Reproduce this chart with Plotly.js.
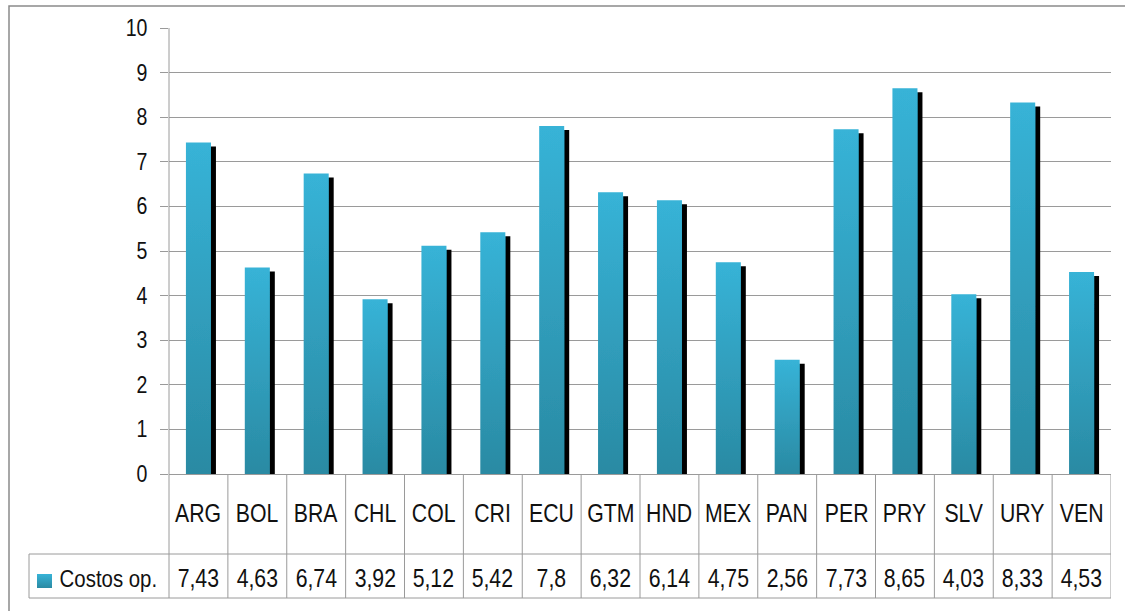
<!DOCTYPE html>
<html>
<head>
<meta charset="utf-8">
<script src="https://cdn.plot.ly/plotly-3.0.1.min.js"></script>
<style>
html,body{margin:0;padding:0;background:#fff;}
#chart{width:1125px;height:611px;}
</style>
</head>
<body>
<div id="chart"></div>
<script>
// ---- data ----
var categories = ["ARG","BOL","BRA","CHL","COL","CRI","ECU","GTM","HND","MEX","PAN","PER","PRY","SLV","URY","VEN"];
var costos = [7.43,4.63,6.74,3.92,5.12,5.42,7.8,6.32,6.14,4.75,2.56,7.73,8.65,4.03,8.33,4.53];
var seriesName = "Costos op.";
var yTicks = [0,1,2,3,4,5,6,7,8,9,10];

// ---- style ----
var FONT = "'Liberation Sans Narrow','Arial Narrow','Liberation Sans',Arial,sans-serif";
var NARROW = 0.85;
var GRID = "#9a9a9a";
var W = 1125, H = 611, ML = 169, MR = 14, MT = 28, MB = 137;
var PW = W - ML - MR, PH = H - MT - MB;
function px2x(px){ return (px - ML) / PW; }
function py2y(py){ return (H - MB - py) / PH; }

var trace = {
  type: "bar",
  x: categories,
  y: costos,
  name: seriesName,
  width: 0.425,
  marker: { color: "#31a2c3", line: { width: 0 } },
  hoverinfo: "skip",
  cliponaxis: true
};

var shapes = [];
var annotations = [];
var yCatRowBot = py2y(554), yTableBot = py2y(598);
var line = { color: GRID, width: 1 };

// outer chart border (left and top visible)
shapes.push({ type: "rect", xref: "paper", yref: "paper", x0: px2x(9), x1: px2x(1135), y0: py2y(620), y1: py2y(6), line: { color: "#8a8a8a", width: 1.5 }, layer: "below" });
// vertical axis line extending through table
shapes.push({ type: "line", xref: "paper", yref: "paper", x0: 0, x1: 0, y0: yTableBot, y1: 1, line: line });
// table horizontal lines
shapes.push({ type: "line", xref: "paper", yref: "paper", x0: px2x(29), x1: 1, y0: yCatRowBot, y1: yCatRowBot, line: line });
shapes.push({ type: "line", xref: "paper", yref: "paper", x0: px2x(29), x1: 1, y0: yTableBot, y1: yTableBot, line: line });
shapes.push({ type: "line", xref: "paper", yref: "paper", x0: px2x(29), x1: px2x(29), y0: yTableBot, y1: yCatRowBot, line: line });
// table vertical separators
for (var i = 1; i <= categories.length; i++) {
  shapes.push({ type: "line", xref: "x", yref: "paper", x0: i - 0.5, x1: i - 0.5, y0: yTableBot, y1: 0, line: line });
}
// legend key
shapes.push({ type: "rect", xref: "paper", yref: "paper", x0: px2x(37), x1: px2x(52), y0: py2y(588), y1: py2y(574), fillcolor: "#30a1c2", line: { width: 0 } });

categories.forEach(function (c, i) {
  annotations.push({ x: c, xref: "x", y: py2y(513), yref: "paper", text: c, showarrow: false, xanchor: "center", yanchor: "middle", font: { family: FONT, size: 25, color: "#111" } });
  annotations.push({ x: c, xref: "x", y: py2y(578), yref: "paper", text: String(costos[i]).replace(".", ","), showarrow: false, xanchor: "center", yanchor: "middle", font: { family: FONT, size: 25, color: "#111" } });
});
annotations.push({ x: px2x(108), xref: "paper", y: py2y(578), yref: "paper", text: seriesName, showarrow: false, xanchor: "center", yanchor: "middle", font: { family: FONT, size: 24, color: "#111" } });

var layout = {
  width: W, height: H,
  margin: { l: ML, r: MR, t: MT, b: MB, pad: 0 },
  paper_bgcolor: "#fff", plot_bgcolor: "#fff",
  showlegend: false,
  hovermode: false,
  bargap: 0.575,
  xaxis: { type: "category", range: [-0.5, categories.length - 0.5], showticklabels: false, showgrid: false, zeroline: false, showline: false, ticks: "" , fixedrange: true},
  yaxis: {
    range: [0, 10], tickvals: yTicks, ticktext: yTicks.map(String),
    showgrid: true, gridcolor: GRID, gridwidth: 1,
    zeroline: true, zerolinecolor: GRID, zerolinewidth: 1,
    showline: false, ticks: "outside", ticklen: 8, tickcolor: GRID, tickwidth: 1,
    ticklabelstandoff: 8,
    tickfont: { family: FONT, size: 23, color: "#111" }, fixedrange: true
  },
  shapes: shapes,
  annotations: annotations
};

Plotly.newPlot("chart", [trace], layout, { displayModeBar: false, staticPlot: true }).then(function (gd) {
  var svgNS = "http://www.w3.org/2000/svg";
  var svg = gd.querySelector("svg.main-svg");
  var defs = document.createElementNS(svgNS, "defs");
  var grad = document.createElementNS(svgNS, "linearGradient");
  grad.setAttribute("id", "barGrad");
  grad.setAttribute("x1", "0"); grad.setAttribute("y1", "0");
  grad.setAttribute("x2", "0"); grad.setAttribute("y2", "1");
  [["0%", "#37b3d7"], ["100%", "#2a8aa3"]].forEach(function (s) {
    var st = document.createElementNS(svgNS, "stop");
    st.setAttribute("offset", s[0]); st.setAttribute("stop-color", s[1]);
    grad.appendChild(st);
  });
  defs.appendChild(grad);
  var filt = document.createElementNS(svgNS, "filter");
  filt.setAttribute("id", "barShadow");
  filt.setAttribute("x", "-0.3"); filt.setAttribute("y", "-0.3");
  filt.setAttribute("width", "1.8"); filt.setAttribute("height", "1.6");
  var ds = document.createElementNS(svgNS, "feDropShadow");
  ds.setAttribute("dx", "5"); ds.setAttribute("dy", "4");
  ds.setAttribute("stdDeviation", "0");
  ds.setAttribute("flood-color", "#000"); ds.setAttribute("flood-opacity", "1");
  filt.appendChild(ds);
  defs.appendChild(filt);
  svg.insertBefore(defs, svg.firstChild);
  gd.querySelectorAll(".barlayer .point path").forEach(function (p) {
    p.style.fill = "url(#barGrad)";
    p.setAttribute("filter", "url(#barShadow)");
  });
  // legend key gradient
  var shapePaths = gd.querySelectorAll(".shapelayer path");
  var key = shapePaths[shapePaths.length - 1];
  if (key) key.style.fill = "url(#barGrad)";
  // condensed look for texts (narrow font not installed)
  function narrow(t) {
    var x = parseFloat(t.getAttribute("x")) || 0;
    var prev = t.getAttribute("transform") || "";
    t.setAttribute("transform", prev + " translate(" + x + ",0) scale(" + NARROW + ",1) translate(" + (-x) + ",0)");
  }
  gd.querySelectorAll(".annotation-text").forEach(narrow);
  gd.querySelectorAll(".ytick text").forEach(narrow);
});
</script>
</body>
</html>
